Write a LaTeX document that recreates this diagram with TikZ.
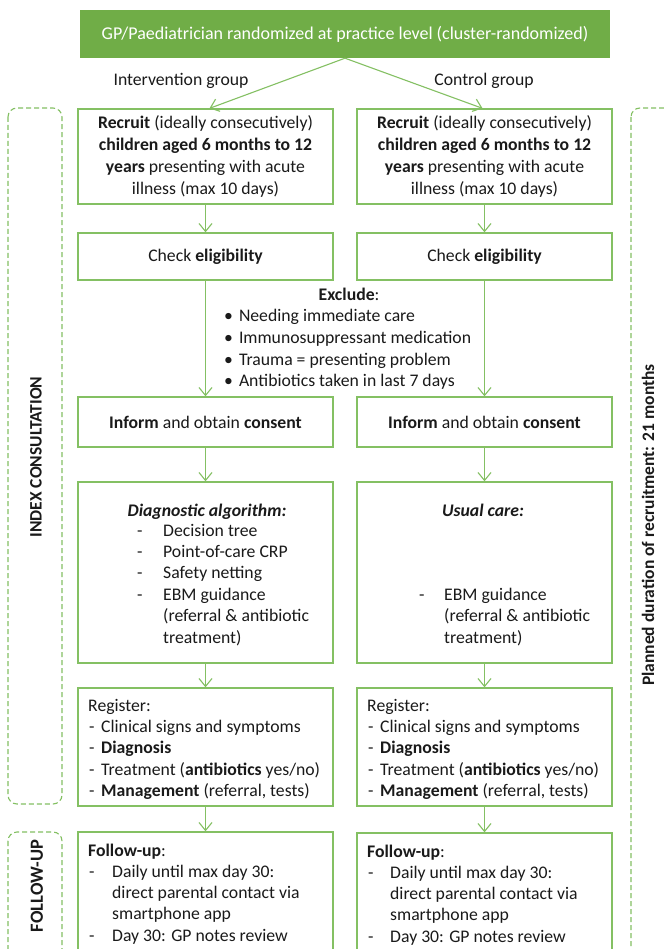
\documentclass[tikz,border=0pt]{standalone}
\usepackage{fontspec}
\setmainfont{Carlito}
\usetikzlibrary{arrows.meta}
\definecolor{gfill}{HTML}{70AD47}
\definecolor{gline}{HTML}{84C063}
\definecolor{txtc}{HTML}{1A1A1A}
\begin{document}
\begin{tikzpicture}[x=1pt,y=-1pt,
  every node/.style={inner sep=0pt, text=txtc},
  f/.style={font=\fontsize{17.7}{22}\selectfont},
  box/.style={draw=gline, line width=1.3pt, minimum width=255pt, f, align=center},
  lbox/.style={draw=gline, line width=1.3pt, minimum width=255pt},
  t/.style={f, anchor=base west},
  tc/.style={f, anchor=base},
  side/.style={draw=gline, line width=1.1pt, dash pattern=on 5pt off 3pt, rounded corners=9pt},
  sidetxt/.style={font=\fontsize{17.5}{20}\selectfont\bfseries, rotate=90},
  conn/.style={draw=gline, line width=1.1pt, -{Straight Barb[length=8pt,width=13pt]}}]
\useasboundingbox (0,0) rectangle (663,949);
\fill[white] (0,0) rectangle (663,949);

% dashed side frames
\draw[side] (8,108) rectangle (62,804);
\draw[side] (8,832) rectangle (62,990);
\draw[side] (631,108) rectangle (720,990);
\node[sidetxt] (idx) at (36,457) {INDEX CONSULTATION};
\node[sidetxt, font=\fontsize{18.5}{20}\selectfont\bfseries] (fu) at (37,886) {FOLLOW-UP};
\node[sidetxt] (plan) at (648,525) {Planned duration of recruitment: 21 months};

% top
\node[fill=gfill, minimum width=530pt, minimum height=48pt, text=white, font=\fontsize{18}{21}\selectfont] (top) at (345,34) {GP/Paediatrician randomized at practice level (cluster-randomized)};
\node[tc] (ig) at (181,86) {Intervention group};
\node[tc] (cg) at (484,86) {Control group};

% left column
\node[box, minimum height=95pt] (recL) at (205.5,156.5) {\textbf{Recruit} (ideally consecutively)\\ \textbf{children aged 6 months to 12}\\ \textbf{years} presenting with acute\\ illness (max 10 days)};
\node[box, minimum height=47pt] (chkL) at (205.5,256.5) {Check \textbf{eligibility}};
\node[box, minimum height=50pt] (infL) at (205.5,422) {\textbf{Inform} and obtain \textbf{consent}};
\node[lbox, minimum height=181pt] (diaL) at (205.5,572.5) {};
\node[lbox, minimum height=118pt] (regL) at (205.5,747) {};
\node[lbox, minimum height=140pt] (folL) at (205.5,902) {};

% right column
\node[box, minimum height=95pt] (recR) at (484.5,156.5) {\textbf{Recruit} (ideally consecutively)\\ \textbf{children aged 6 months to 12}\\ \textbf{years} presenting with acute\\ illness (max 10 days)};
\node[box, minimum height=47pt] (chkR) at (484.5,256.5) {Check \textbf{eligibility}};
\node[box, minimum height=50pt] (infR) at (484.5,422) {\textbf{Inform} and obtain \textbf{consent}};
\node[lbox, minimum height=181pt] (diaR) at (484.5,572.5) {};
\node[lbox, minimum height=118pt] (regR) at (484.5,747) {};
\node[lbox, minimum height=140pt] (folR) at (484.5,903) {};

% exclude
\node[tc] (exc) at (349,301) {\textbf{Exclude}:};
\node[t] (eb1) at (224,321) {•\hspace{6pt}Needing immediate care};
\node[t] (eb2) at (224,343) {•\hspace{6pt}Immunosuppressant medication};
\node[t] (eb3) at (224,365) {•\hspace{6pt}Trauma = presenting problem};
\node[t] (eb4) at (224,386) {•\hspace{6pt}Antibiotics taken in last 7 days};

% diagnostic algorithm
\node[tc] (daT) at (207,516) {\textbf{\textit{Diagnostic algorithm:}}};
\node[t] (dd1) at (137,536) {-};   \node[t] (da1) at (163,536) {Decision tree};
\node[t] (dd2) at (137,557.4) {-}; \node[t] (da2) at (163,557.4) {Point-of-care CRP};
\node[t] (dd3) at (137,578.8) {-}; \node[t] (da3) at (163,578.8) {Safety netting};
\node[t] (dd4) at (137,600.2) {-}; \node[t] (da4) at (163,600.2) {EBM guidance};
\node[t] (da5) at (163,621.6) {(referral \& antibiotic};
\node[t] (da6) at (163,643) {treatment)};

% usual care
\node[tc] (ucT) at (483,516) {\textbf{\textit{Usual care:}}};
\node[t] (ud1) at (419,600.2) {-}; \node[t] (uc1) at (444,600.2) {EBM guidance};
\node[t] (uc2) at (444,621.6) {(referral \& antibiotic};
\node[t] (uc3) at (444,643) {treatment)};

% register left
\node[t] (rL0) at (88,711) {Register:};
\node[t] (rL1) at (89,732) {\makebox[12pt][l]{-}Clinical signs and symptoms};
\node[t] (rL2) at (89,753) {\makebox[12pt][l]{-}\textbf{Diagnosis}};
\node[t] (rL3) at (89,775) {\makebox[12pt][l]{-}Treatment (\textbf{antibiotics} yes/no)};
\node[t] (rL4) at (89,796) {\makebox[12pt][l]{-}\textbf{Management} (referral, tests)};
% register right
\node[t] (rR0) at (367,711) {Register:};
\node[t] (rR1) at (368,732) {\makebox[12pt][l]{-}Clinical signs and symptoms};
\node[t] (rR2) at (368,753) {\makebox[12pt][l]{-}\textbf{Diagnosis}};
\node[t] (rR3) at (368,775) {\makebox[12pt][l]{-}Treatment (\textbf{antibiotics} yes/no)};
\node[t] (rR4) at (368,796) {\makebox[12pt][l]{-}\textbf{Management} (referral, tests)};

% follow-up left
\node[t] (fL0) at (88,856) {\textbf{Follow-up}:};
\node[t] (fLd1) at (89,877) {-}; \node[t] (fL1) at (112,877) {Daily until max day 30:};
\node[t] (fL2) at (112,898) {direct parental contact via};
\node[t] (fL3) at (112,919) {smartphone app};
\node[t] (fLd4) at (89,941) {-}; \node[t] (fL4) at (112,941) {Day 30: GP notes review};
% follow-up right
\node[t] (fR0) at (367,857) {\textbf{Follow-up}:};
\node[t] (fRd1) at (368,878) {-}; \node[t] (fR1) at (390,878) {Daily until max day 30:};
\node[t] (fR2) at (390,899) {direct parental contact via};
\node[t] (fR3) at (390,920) {smartphone app};
\node[t] (fRd4) at (368,942) {-}; \node[t] (fR4) at (390,942) {Day 30: GP notes review};

% connectors
\draw[conn] (top.south) -- ([xshift=4pt]recL.north);
\draw[conn] (top.south) -- ([xshift=-2pt]recR.north);
\foreach \s in {L,R}{
  \draw[conn] (rec\s) -- (chk\s);
  \draw[conn] (chk\s) -- (inf\s);
  \draw[conn] (inf\s) -- (dia\s);
  \draw[conn] (dia\s) -- (reg\s);
  \draw[conn] (reg\s) -- (fol\s);
}
\end{tikzpicture}
\end{document}
